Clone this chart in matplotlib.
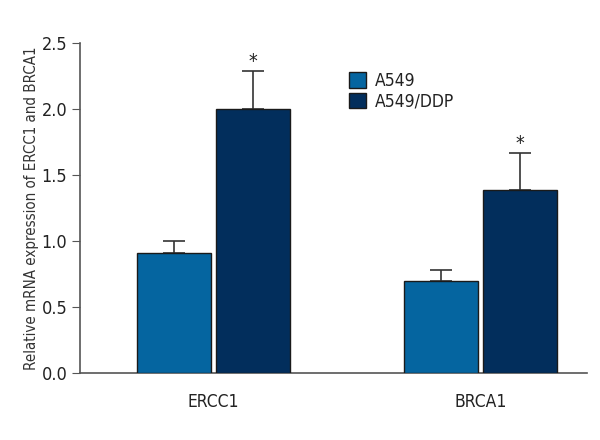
import numpy as np
import matplotlib.pyplot as plt

genes = ['ERCC1', 'BRCA1']
a549 = [0.91, 0.70]
a549_err = [0.09, 0.08]
ddp = [2.0, 1.39]
ddp_err = [0.29, 0.28]

plt.rcParams['font.family'] = ['DejaVu Sans']
plt.rcParams['font.stretch'] = 'condensed'
plt.rcParams['text.color'] = '#222222'
plt.rcParams['ytick.labelcolor'] = '#222222'
plt.rcParams['xtick.labelcolor'] = '#222222'

c1 = '#0565a0'
c2 = '#022e5c'
axc = '#555555'

fig = plt.figure(figsize=(6, 4.4), dpi=100)
ax = fig.add_axes([0.133, 0.152, 0.845, 0.75])

x = np.arange(len(genes))
w = 0.277
off = 0.148
ax.bar(x - off, a549, w, color=c1, edgecolor='#1a1a1a', linewidth=1, label='A549', zorder=3)
ax.bar(x + off, ddp, w, color=c2, edgecolor='#1a1a1a', linewidth=1, label='A549/DDP', zorder=3)
ax.errorbar(x - off, a549, yerr=[np.zeros(2), a549_err], fmt='none', ecolor='#333333',
            elinewidth=1.2, capsize=8, capthick=1.2, zorder=2)
ax.errorbar(x + off, ddp, yerr=[np.zeros(2), ddp_err], fmt='none', ecolor='#333333',
            elinewidth=1.2, capsize=8, capthick=1.2, zorder=2)
for xi, v, e in zip(x + off, ddp, ddp_err):
    ax.text(xi, v + e + 0.0, '*', ha='center', va='bottom', fontsize=14, color='#222222')

ax.set_xlim(-0.5, 1.399)
ax.set_ylim(0, 2.5)
ax.set_yticks(np.arange(0, 2.51, 0.5))
ax.set_yticklabels([f'{v:.1f}' for v in np.arange(0, 2.51, 0.5)])
ax.set_xticks(x)
ax.set_xticklabels(genes)
ax.tick_params(axis='x', length=0, pad=14, labelsize=12.5)
ax.tick_params(axis='y', length=6, color=axc, labelsize=13, pad=3)
ax.set_ylabel('Relative mRNA expression of ERCC1 and BRCA1', fontsize=10.8, labelpad=2,
              color='#333333')
for s in ['top', 'right']:
    ax.spines[s].set_visible(False)
for s in ['left', 'bottom']:
    ax.spines[s].set_color(axc)
    ax.spines[s].set_linewidth(1.2)

ax.legend(loc='upper left', bbox_to_anchor=(0.5, 0.96), frameon=False, fontsize=12.5,
          handlelength=1.0, handleheight=1.0, handletextpad=0.5, labelspacing=0.15)

fig.savefig('out.png', dpi=100)
